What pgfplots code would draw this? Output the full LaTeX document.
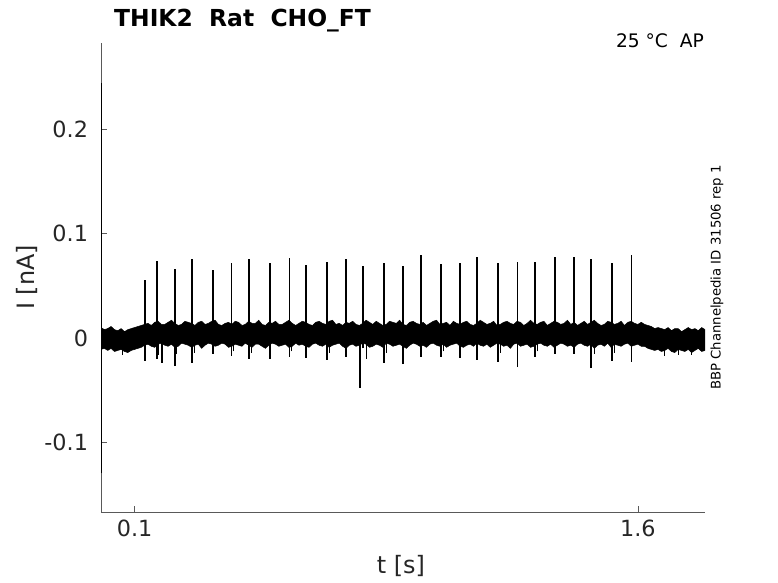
\documentclass[border=0pt]{standalone}
\usepackage{fontspec}
\setmainfont{DejaVu Sans}
\usepackage{pgfplots}
\pgfplotsset{compat=1.18}
\usepgfplotslibrary{fillbetween}
\begin{document}
\begin{tikzpicture}
\begin{axis}[
 at={(101bp,71bp)}, anchor=south west,
 width=604bp, height=469bp, scale only axis,
 xmin=0, xmax=1.8, ymin=-0.167, ymax=0.283,
 axis x line*=bottom, axis y line*=left,
 axis line style={-, black!65, line width=0.6bp},
 tick align=inside, major tick length=6bp,
 tick style={black!65, line width=0.6bp},
 xtick={0.1,1.6}, ytick={-0.1,0,0.1,0.2},
 xticklabels={0.1,1.6}, yticklabels={-0.1,0,0.1,0.2},
 ticklabel style={font=\fontsize{22.4}{26}\selectfont, text=black!85},
 xticklabel style={yshift=-4.5bp},
 yticklabel style={xshift=-9.5bp},
 xlabel={t [s]}, ylabel={I [nA]},
 label style={font=\fontsize{24}{28}\selectfont, text=black!85},
 xlabel style={at={(axis description cs:0.4967,-0.115)}, anchor=center},
 ylabel style={at={(axis description cs:-0.1225,0.5)}, anchor=center},
]
% upper envelope of the noise band
\addplot[name path=U, black, line width=0.5bp] table {
x y
0.00 0.010
0.01 0.008
0.02 0.009
0.03 0.011
0.04 0.008
0.05 0.007
0.06 0.009
0.07 0.006
0.08 0.008
0.09 0.009
0.10 0.010
0.11 0.011
0.12 0.012
0.13 0.013
0.14 0.014
0.15 0.012
0.16 0.015
0.17 0.016
0.18 0.013
0.19 0.013
0.20 0.015
0.21 0.017
0.22 0.014
0.23 0.012
0.24 0.013
0.25 0.016
0.26 0.015
0.27 0.014
0.28 0.012
0.29 0.015
0.30 0.016
0.31 0.013
0.32 0.014
0.33 0.016
0.34 0.017
0.35 0.013
0.36 0.012
0.37 0.014
0.38 0.015
0.39 0.013
0.40 0.016
0.41 0.015
0.42 0.012
0.43 0.013
0.44 0.016
0.45 0.014
0.46 0.014
0.47 0.017
0.48 0.013
0.49 0.012
0.50 0.015
0.51 0.014
0.52 0.016
0.53 0.013
0.54 0.013
0.55 0.015
0.56 0.017
0.57 0.014
0.58 0.012
0.59 0.014
0.60 0.016
0.61 0.015
0.62 0.013
0.63 0.012
0.64 0.015
0.65 0.016
0.66 0.014
0.67 0.013
0.68 0.016
0.69 0.017
0.70 0.013
0.71 0.014
0.72 0.012
0.73 0.015
0.74 0.014
0.75 0.016
0.76 0.013
0.77 0.012
0.78 0.014
0.79 0.017
0.80 0.015
0.81 0.013
0.82 0.016
0.83 0.014
0.84 0.012
0.85 0.013
0.86 0.016
0.87 0.015
0.88 0.014
0.89 0.017
0.90 0.013
0.91 0.012
0.92 0.015
0.93 0.016
0.94 0.014
0.95 0.013
0.96 0.015
0.97 0.012
0.98 0.014
0.99 0.016
1.00 0.017
1.01 0.013
1.02 0.014
1.03 0.015
1.04 0.012
1.05 0.016
1.06 0.014
1.07 0.013
1.08 0.015
1.09 0.016
1.10 0.013
1.11 0.012
1.12 0.014
1.13 0.017
1.14 0.015
1.15 0.013
1.16 0.014
1.17 0.016
1.18 0.012
1.19 0.013
1.20 0.015
1.21 0.016
1.22 0.014
1.23 0.013
1.24 0.016
1.25 0.015
1.26 0.012
1.27 0.014
1.28 0.017
1.29 0.014
1.30 0.013
1.31 0.015
1.32 0.016
1.33 0.012
1.34 0.014
1.35 0.016
1.36 0.015
1.37 0.013
1.38 0.014
1.39 0.017
1.40 0.013
1.41 0.015
1.42 0.012
1.43 0.014
1.44 0.016
1.45 0.013
1.46 0.015
1.47 0.017
1.48 0.014
1.49 0.012
1.50 0.013
1.51 0.016
1.52 0.015
1.53 0.013
1.54 0.014
1.55 0.016
1.56 0.012
1.57 0.015
1.58 0.016
1.59 0.014
1.60 0.013
1.61 0.015
1.62 0.013
1.63 0.012
1.64 0.011
1.65 0.009
1.66 0.010
1.67 0.009
1.68 0.008
1.69 0.010
1.70 0.007
1.71 0.009
1.72 0.009
1.73 0.006
1.74 0.008
1.75 0.010
1.76 0.008
1.77 0.009
1.78 0.007
1.79 0.010
1.80 0.008
};
% lower envelope of the noise band
\addplot[name path=L, black, line width=0.5bp] table {
x y
0.00 -0.011
0.01 -0.010
0.02 -0.012
0.03 -0.010
0.04 -0.013
0.05 -0.012
0.06 -0.011
0.07 -0.013
0.08 -0.014
0.09 -0.012
0.10 -0.011
0.11 -0.010
0.12 -0.009
0.13 -0.007
0.14 -0.006
0.15 -0.008
0.16 -0.009
0.17 -0.006
0.18 -0.005
0.19 -0.007
0.20 -0.008
0.21 -0.006
0.22 -0.009
0.23 -0.008
0.24 -0.005
0.25 -0.006
0.26 -0.007
0.27 -0.009
0.28 -0.007
0.29 -0.006
0.30 -0.010
0.31 -0.007
0.32 -0.005
0.33 -0.006
0.34 -0.008
0.35 -0.007
0.36 -0.005
0.37 -0.006
0.38 -0.009
0.39 -0.008
0.40 -0.006
0.41 -0.007
0.42 -0.008
0.43 -0.005
0.44 -0.007
0.45 -0.009
0.46 -0.006
0.47 -0.006
0.48 -0.008
0.49 -0.010
0.50 -0.007
0.51 -0.005
0.52 -0.006
0.53 -0.008
0.54 -0.007
0.55 -0.006
0.56 -0.009
0.57 -0.008
0.58 -0.005
0.59 -0.007
0.60 -0.006
0.61 -0.008
0.62 -0.009
0.63 -0.006
0.64 -0.005
0.65 -0.007
0.66 -0.008
0.67 -0.006
0.68 -0.009
0.69 -0.007
0.70 -0.006
0.71 -0.005
0.72 -0.008
0.73 -0.010
0.74 -0.007
0.75 -0.006
0.76 -0.008
0.77 -0.007
0.78 -0.005
0.79 -0.006
0.80 -0.009
0.81 -0.008
0.82 -0.006
0.83 -0.007
0.84 -0.009
0.85 -0.005
0.86 -0.006
0.87 -0.008
0.88 -0.007
0.89 -0.006
0.90 -0.008
0.91 -0.010
0.92 -0.007
0.93 -0.005
0.94 -0.006
0.95 -0.008
0.96 -0.007
0.97 -0.009
0.98 -0.006
0.99 -0.005
1.00 -0.007
1.01 -0.008
1.02 -0.006
1.03 -0.009
1.04 -0.007
1.05 -0.006
1.06 -0.005
1.07 -0.008
1.08 -0.009
1.09 -0.007
1.10 -0.006
1.11 -0.008
1.12 -0.005
1.13 -0.007
1.14 -0.008
1.15 -0.006
1.16 -0.009
1.17 -0.007
1.18 -0.005
1.19 -0.006
1.20 -0.008
1.21 -0.007
1.22 -0.010
1.23 -0.006
1.24 -0.005
1.25 -0.008
1.26 -0.007
1.27 -0.006
1.28 -0.009
1.29 -0.008
1.30 -0.006
1.31 -0.005
1.32 -0.007
1.33 -0.008
1.34 -0.006
1.35 -0.009
1.36 -0.007
1.37 -0.005
1.38 -0.006
1.39 -0.008
1.40 -0.007
1.41 -0.009
1.42 -0.006
1.43 -0.005
1.44 -0.007
1.45 -0.008
1.46 -0.006
1.47 -0.010
1.48 -0.007
1.49 -0.006
1.50 -0.008
1.51 -0.005
1.52 -0.009
1.53 -0.006
1.54 -0.007
1.55 -0.008
1.56 -0.006
1.57 -0.005
1.58 -0.008
1.59 -0.007
1.60 -0.006
1.61 -0.008
1.62 -0.008
1.63 -0.010
1.64 -0.011
1.65 -0.012
1.66 -0.011
1.67 -0.013
1.68 -0.012
1.69 -0.010
1.70 -0.013
1.71 -0.014
1.72 -0.011
1.73 -0.012
1.74 -0.013
1.75 -0.011
1.76 -0.014
1.77 -0.012
1.78 -0.010
1.79 -0.013
1.80 -0.012
};
\addplot[black] fill between[of=U and L];
% small noise excursions below the band
\addplot[black, line width=0.9bp, unbounded coords=jump] table {
x y
0.064 -0.016
0.064 0.000
0.064 nan
0.172 -0.016
0.172 0.000
0.172 nan
0.226 -0.015
0.226 0.000
0.226 nan
0.278 -0.014
0.278 0.000
0.278 nan
0.395 -0.013
0.395 0.000
0.395 nan
0.449 -0.014
0.449 0.000
0.449 nan
0.568 -0.013
0.568 0.000
0.568 nan
0.680 -0.014
0.680 0.000
0.680 nan
0.790 -0.020
0.790 0.000
0.790 nan
0.850 -0.014
0.850 0.000
0.850 nan
1.020 -0.013
1.020 0.000
1.020 nan
1.190 -0.014
1.190 0.000
1.190 nan
1.300 -0.013
1.300 0.000
1.300 nan
1.470 -0.015
1.470 0.000
1.470 nan
1.530 -0.014
1.530 0.000
1.530 nan
1.680 -0.017
1.680 0.000
1.680 nan
1.720 -0.016
1.720 0.000
1.720 nan
1.760 -0.016
1.760 0.000
};
% action-potential spikes: negative deflection to peak
\addplot[black, line width=1.8bp, unbounded coords=jump] table {
x y
0.130 -0.022
0.130 0.0556
0.130 nan
0.166 -0.020
0.166 0.0738
0.166 nan
0.181 -0.024
0.181 0.000
0.181 nan
0.221 -0.027
0.221 0.0662
0.221 nan
0.272 -0.024
0.272 0.0755
0.272 nan
0.333 -0.015
0.333 0.0652
0.333 nan
0.389 -0.017
0.389 0.0716
0.389 nan
0.440 -0.020
0.440 0.0760
0.440 nan
0.503 -0.020
0.503 0.0716
0.503 nan
0.562 -0.018
0.562 0.0767
0.562 nan
0.612 -0.019
0.612 0.0697
0.612 nan
0.673 -0.021
0.673 0.0729
0.673 nan
0.729 -0.018
0.729 0.0755
0.729 nan
0.772 -0.048
0.772 0.000
0.772 nan
0.781 -0.010
0.781 0.0693
0.781 nan
0.843 -0.024
0.843 0.0716
0.843 nan
0.901 -0.025
0.901 0.0693
0.901 nan
0.953 -0.018
0.953 0.0793
0.953 nan
1.013 -0.018
1.013 0.0710
1.013 nan
1.069 -0.019
1.069 0.0722
1.069 nan
1.120 -0.021
1.120 0.0774
1.120 nan
1.183 -0.023
1.183 0.0716
1.183 nan
1.241 -0.028
1.241 0.0729
1.241 nan
1.293 -0.018
1.293 0.0729
1.293 nan
1.353 -0.015
1.353 0.0774
1.353 nan
1.409 -0.015
1.409 0.0774
1.409 nan
1.460 -0.029
1.460 0.0755
1.460 nan
1.523 -0.022
1.523 0.0716
1.523 nan
1.581 -0.023
1.581 0.0793
};
% initial capacitive transient
\addplot[black, line width=1bp] coordinates {(0.002,-0.13) (0.002,0.245)};
\end{axis}
\node[anchor=base west, inner sep=0, font=\bfseries\fontsize{23.5}{28}\selectfont] at (114bp,556.4bp) {THIK2~~Rat~~CHO\_FT};
\node[anchor=base east, inner sep=0, font=\fontsize{18.7}{22}\selectfont] at (704bp,535.5bp) {25~°C~~AP};
\node[rotate=90, inner sep=0, font=\fontsize{13.3}{16}\selectfont] at (717bp,305.5bp) {BBP Channelpedia ID 31506 rep 1};
\path (0,0) rectangle (778bp,583bp);
\end{tikzpicture}
\end{document}
